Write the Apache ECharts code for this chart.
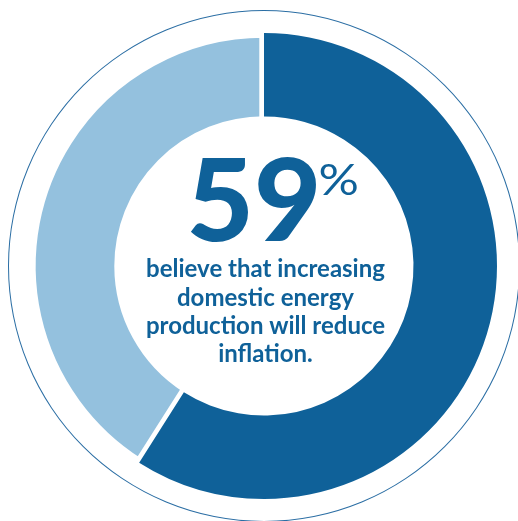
<!DOCTYPE html>
<html>
<head>
<meta charset="utf-8">
<script src="https://cdn.jsdelivr.net/npm/echarts@6/dist/echarts.min.js"></script>
<style>html,body{margin:0;padding:0;background:#fff}#c{width:518px;height:521px}</style>
</head>
<body>
<div id="c"></div>
<script>
const categories = ['Believe it will reduce inflation', 'Other'];
const values = [59, 41];
const bigNumber = '59';
const percentSign = '%';
const captionLines = ['believe that increasing', 'domestic energy', 'production will reduce', 'inflation.'];

const DARK = '#0f6199';
const LIGHT = '#94c1de';
const CX = 264, CY = 266;

const chart = echarts.init(document.getElementById('c'), null, {renderer: 'canvas'});

const lightData = categories.map((name, i) => ({
  name, value: values[i],
  itemStyle: i === 1 ? {color: LIGHT, borderColor: '#fff', borderWidth: 9.4} : {color: 'transparent', borderWidth: 0}
}));
const darkData = categories.map((name, i) => ({
  name, value: values[i],
  itemStyle: i === 0 ? {color: DARK, borderWidth: 0} : {color: 'transparent', borderWidth: 0}
}));

const graphics = [
  {type: 'text', z: 10, x: 254, y: 204, scaleX: 1.02,
   style: {text: bigNumber, x: 0, y: 0, textAlign: 'center', textVerticalAlign: 'middle',
    font: '900 114px Lato', fill: DARK}},
  {type: 'text', z: 10, x: 318.5, y: 181, scaleX: 1.2,
   style: {text: percentSign, x: 0, y: 0, textAlign: 'left', textVerticalAlign: 'middle',
    font: '400 42px Lato', fill: DARK}}
];
captionLines.forEach((t, i) => {
  const y = 269.5 + i * 28.3;
  graphics.push({type: 'text', z: 10, x: 265.5, y, scaleX: 1.0,
    style: {text: t, x: 0, y: 0, textAlign: 'center', textVerticalAlign: 'middle',
    font: '700 24px Lato', fill: DARK}});
});

chart.setOption({
  animation: false,
  series: [
    {type: 'pie', silent: true, center: [CX, CY], radius: [255, 256], label: {show: false},
     data: [{value: 1, itemStyle: {color: '#2b6ea4'}}]},
    {type: 'pie', silent: true, center: [CX, CY], radius: [145, 233], startAngle: 90, clockwise: true,
     label: {show: false}, labelLine: {show: false}, data: lightData, z: 2},
    {type: 'pie', silent: true, center: [CX, CY], radius: [149.5, 233], startAngle: 90, clockwise: true,
     label: {show: false}, labelLine: {show: false}, data: darkData, z: 3}
  ],
  graphic: graphics
});
</script>
</body>
</html>
